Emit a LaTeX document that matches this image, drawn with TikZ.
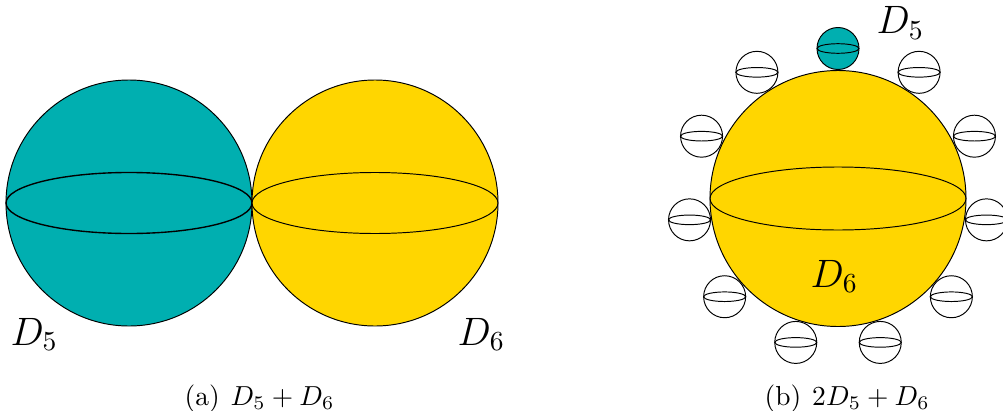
\documentclass[tikz,border=0pt]{standalone}
\definecolor{tealc}{RGB}{0,175,176}
\definecolor{goldc}{RGB}{255,214,0}
\begin{document}
\begin{tikzpicture}[x=0.3636pt,y=-0.3636pt,
  sph/.style={draw=black,line width=0.35pt},
  eq/.style={draw=black,line width=0.35pt},
  lbl/.style={anchor=base west,inner sep=0pt,font=\Large},
  captxt/.style={anchor=base west,inner sep=0pt}]
\useasboundingbox (0,0) rectangle (1003,410);
% (a)
\path[sph,fill=tealc] (129,203) circle[radius=123];
\draw[eq,line width=0.5pt] (129,203) ellipse[x radius=123,y radius=30.5];
\path[sph,fill=goldc] (375,203) circle[radius=123];
\draw[eq] (375,203) ellipse[x radius=123,y radius=30.5];
\node[lbl] (la5) at (10,345) {$D_5$};
\node[lbl] (la6) at (457,345) {$D_6$};
\node[captxt] (capa) at (184,405) {(a)\hspace{4pt}$D_5+D_6$};
% (b)
\path[sph,fill=goldc] (838,198.5) circle[radius=128];
\draw[eq] (838,198.5) ellipse[x radius=128,y radius=31.5];
\foreach \k in {0,...,10}{
  \pgfmathsetmacro{\ang}{90+\k*360/11}
  \pgfmathsetmacro{\cx}{838+150*cos(\ang)}
  \pgfmathsetmacro{\cy}{198.5-150*sin(\ang)}
  \ifnum\k=0
    \path[sph,fill=tealc] (\cx,\cy) circle[radius=21];
  \else
    \path[sph,fill=white] (\cx,\cy) circle[radius=21];
  \fi
  \draw[eq] (\cx,\cy) ellipse[x radius=21,y radius=4.8];
}
\node[lbl] (lb5) at (876,34) {$D_5$};
\node[lbl] (lb6) at (810,287) {$D_6$};
\node[captxt] (capb) at (764,405) {(b)\hspace{4pt}$2D_5+D_6$};
\end{tikzpicture}
\end{document}
